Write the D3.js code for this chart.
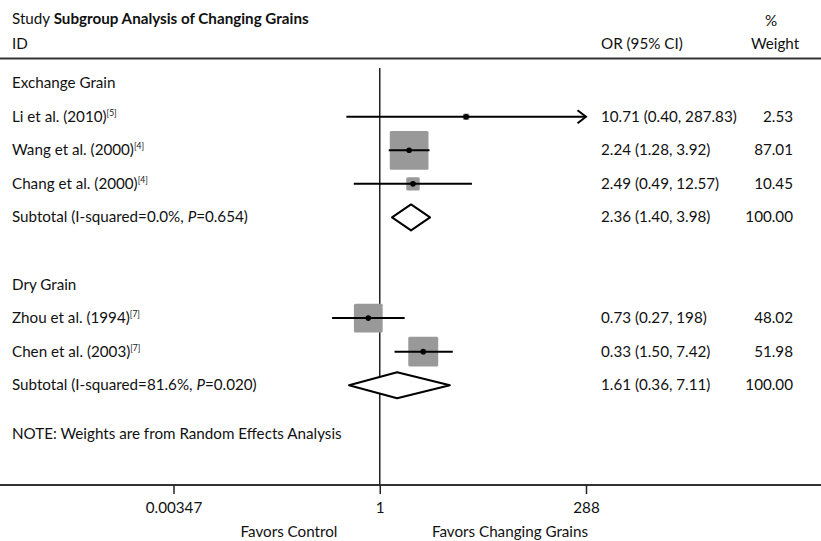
<!DOCTYPE html>
<html>
<head>
<meta charset="utf-8">
<script src="https://cdn.jsdelivr.net/npm/d3@7"></script>
<style>
  body { margin: 0; background: #fff; }
  text { font-family: Lato, "Open Sans", sans-serif; font-size: 15.2px; fill: #111; }
</style>
</head>
<body>
<svg id="forest" width="821" height="541"></svg>
<script>
// rows of the table, top to bottom (row index = position)
const rowLabels = [
  { text: "Exchange Grain" },
  { text: "Li et al. (2010)", sup: "[5]" },
  { text: "Wang et al. (2000)", sup: "[4]" },
  { text: "Chang et al. (2000)", sup: "[4]" },
  { text: "Subtotal (I-squared=0.0%, ", p: "0.654" },
  null,
  { text: "Dry Grain" },
  { text: "Zhou et al. (1994)", sup: "[7]" },
  { text: "Chen et al. (2003)", sup: "[7]" },
  { text: "Subtotal (I-squared=81.6%, ", p: "0.020" }
];

// studies: row, odds ratio, CI, weight (as drawn in the picture)
const studyRows = [1, 2, 3, 7, 8];
const studyOR   = [10.71, 2.24, 2.49, 0.73, 3.30];
const studyLo   = [0.40, 1.28, 0.49, 0.27, 1.50];
const studyHi   = [287.83, 3.92, 12.57, 1.98, 7.42];
const studyWt   = [2.53, 87.01, 10.45, 48.02, 51.98];

// subtotals (diamonds)
const subRows = [4, 9];
const subOR   = [2.36, 1.61];
const subLo   = [1.40, 0.43];
const subHi   = [3.98, 6.85];

// right hand columns
const ciRows   = [1, 2, 3, 4, 7, 8, 9];
const ciText   = ["10.71 (0.40, 287.83)", "2.24 (1.28, 3.92)", "2.49 (0.49, 12.57)", "2.36 (1.40, 3.98)",
                  "0.73 (0.27, 198)", "0.33 (1.50, 7.42)", "1.61 (0.36, 7.11)"];
const wtText   = ["2.53", "87.01", "10.45", "100.00", "48.02", "51.98", "100.00"];

// axis
const tickValues = [0.00347, 1, 288];
const tickLabels = ["0.00347", "1", "288"];

const width = 821;
const height = 541;
const svg = d3.select("#forest");

const x = d3.scaleLog().domain([0.00347, 288]).range([173.5, 586]);
const y = d3.scaleLinear().domain([0, 9]).range([83.2, 385.2]);
const boxSize = d3.scaleSqrt().domain([0, 100]).range([0, 41.5]);
const axisY = 485;

// header
const head = svg.append("text").attr("x", 12).attr("y", 23.5);
head.append("tspan").text("Study ");
head.append("tspan").attr("font-weight", "bold").text("Subgroup Analysis of Changing Grains");
svg.append("text").attr("x", 12).attr("y", 48.5).text("ID");
svg.append("text").attr("x", 601).attr("y", 48.5).text("OR (95% CI)");
svg.append("text").attr("x", 771).attr("y", 26).attr("text-anchor", "middle").text("%");
svg.append("text").attr("x", 775).attr("y", 48.5).attr("text-anchor", "middle").text("Weight");

// rules
svg.append("line")
  .attr("x1", 0).attr("x2", width).attr("y1", 58.5).attr("y2", 58.5)
  .attr("stroke", "#333").attr("stroke-width", 2);
svg.append("line")
  .attr("x1", x(1)).attr("x2", x(1)).attr("y1", 68).attr("y2", axisY)
  .attr("stroke", "#222").attr("stroke-width", 1.5);

// row labels
rowLabels.forEach((d, i) => {
  if (!d) return;
  const t = svg.append("text").attr("x", 12).attr("y", y(i) + 5);
  t.append("tspan").text(d.text);
  if (d.sup) {
    t.append("tspan").attr("font-size", "8.5px").attr("dy", -6).text(d.sup);
  }
  if (d.p) {
    t.append("tspan").attr("font-style", "italic").text("P");
    t.append("tspan").text("=" + d.p + ")");
  }
});
svg.append("text").attr("x", 12).attr("y", 439).text("NOTE: Weights are from Random Effects Analysis");

// OR and weight columns
ciRows.forEach((r, i) => {
  svg.append("text").attr("x", 601).attr("y", y(r) + 5).text(ciText[i]);
  svg.append("text").attr("x", 793).attr("y", y(r) + 5).attr("text-anchor", "end").text(wtText[i]);
});

// study boxes, CI lines, points
const studies = studyRows.map((r, i) => ({
  row: r, or: studyOR[i], lo: studyLo[i], hi: studyHi[i], wt: studyWt[i]
}));
const xMax = x.domain()[1];
const offScale = d => x(d.hi) >= x(xMax) - 1; // CI reaches the plot edge -> arrow

const g = svg.append("g");
g.selectAll("rect.box")
  .data(studies)
  .enter().append("rect")
    .attr("class", "box")
    .attr("x", d => x(d.or) - boxSize(d.wt) / 2)
    .attr("y", d => y(d.row) - boxSize(d.wt) / 2)
    .attr("width", d => boxSize(d.wt))
    .attr("height", d => boxSize(d.wt))
    .attr("rx", 1.5)
    .attr("fill", "#999");

g.selectAll("line.ci")
  .data(studies)
  .enter().append("line")
    .attr("class", "ci")
    .attr("x1", d => x(d.lo))
    .attr("x2", d => offScale(d) ? x(xMax) : x(d.hi))
    .attr("y1", d => y(d.row))
    .attr("y2", d => y(d.row))
    .attr("stroke", "#000")
    .attr("stroke-width", 2);

// open arrow where the CI runs off the scale
studies.filter(offScale).forEach(d => {
  const tip = x(xMax), cy = y(d.row);
  g.append("path")
    .attr("d", `M${tip - 8.5},${cy - 6.5}L${tip},${cy}L${tip - 8.5},${cy + 6.5}`)
    .attr("fill", "none").attr("stroke", "#000").attr("stroke-width", 2);
});

g.selectAll("circle.pt")
  .data(studies)
  .enter().append("circle")
    .attr("class", "pt")
    .attr("cx", d => x(d.or))
    .attr("cy", d => y(d.row))
    .attr("r", 2.8)
    .attr("fill", "#000");

// subtotal diamonds
const subs = subRows.map((r, i) => ({ row: r, or: subOR[i], lo: subLo[i], hi: subHi[i] }));
g.selectAll("path.diamond")
  .data(subs)
  .enter().append("path")
    .attr("class", "diamond")
    .attr("d", d => {
      const cy = y(d.row), h = 13;
      return `M${x(d.lo)},${cy}L${x(d.or)},${cy - h}L${x(d.hi)},${cy}L${x(d.or)},${cy + h}Z`;
    })
    .attr("fill", "#fff")
    .attr("stroke", "#000")
    .attr("stroke-width", 2)
    .attr("stroke-linejoin", "round");

// bottom axis
svg.append("line")
  .attr("x1", 0).attr("x2", width).attr("y1", axisY).attr("y2", axisY)
  .attr("stroke", "#333").attr("stroke-width", 2);

const axis = svg.append("g")
  .attr("transform", `translate(0,${axisY})`)
  .call(d3.axisBottom(x)
    .tickValues(tickValues)
    .tickFormat((d, i) => tickLabels[i])
    .tickSize(9)
    .tickPadding(8));
axis.select(".domain").remove();
axis.selectAll(".tick line").attr("stroke", "#222").attr("stroke-width", 1.5);
axis.selectAll(".tick text")
  .attr("font-family", null).attr("font-size", null)
  .style("font-size", "15.2px").attr("fill", "#111");

svg.append("text").attr("x", 289).attr("y", 537).attr("text-anchor", "middle").text("Favors Control");
svg.append("text").attr("x", 510).attr("y", 537).attr("text-anchor", "middle").text("Favors Changing Grains");
</script>
</body>
</html>
